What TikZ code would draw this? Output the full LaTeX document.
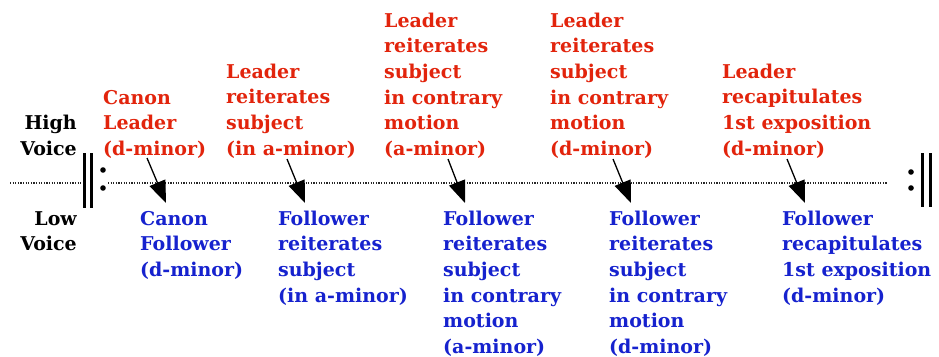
\documentclass[tikz,border=0pt]{standalone}
\usepackage{fontspec}
\setmainfont{DejaVu Serif}
\usetikzlibrary{arrows.meta}
\definecolor{leadred}{RGB}{226,36,12}
\definecolor{follblue}{RGB}{22,34,206}
\newcommand{\fs}{\rule{0pt}{16pt}}
\tikzset{
 lbl/.style={anchor=north west, inner sep=0pt, align=left, font=\fontsize{19}{25.6}\selectfont\bfseries},
 lead/.style={lbl, text=leadred},
 foll/.style={lbl, text=follblue},
 voice/.style={lbl, anchor=north east, align=right, text=black},
 cue/.style={-{Triangle[length=22pt,width=17pt]}, line width=1.3pt, black},
 staff/.style={dash pattern=on 1.1pt off 1.5pt, line width=1.2pt, black!85},
 barline/.style={line width=3pt, black},
}
\begin{document}
\begin{tikzpicture}[x=1pt,y=-1pt]
\fill[white] (0,0) rectangle (939,356);
\useasboundingbox (0,0) rectangle (939,356);
% staff line
\coordinate (s0) at (10,183);
\coordinate (s1) at (82,183);
\coordinate (s2) at (108,183);
\coordinate (s3) at (887,183);
\draw[staff] (s0) -- (s1);
\draw[staff] (s2) -- (s3);
% repeat signs
\draw[barline] (84.5,153) -- (84.5,208);
\draw[barline] (91.5,153) -- (91.5,208);
\fill (103,170) circle (2.8);
\fill (103,188) circle (2.8);
\fill (911,172) circle (2.8);
\fill (911,188) circle (2.8);
\draw[barline] (922,153) -- (922,207);
\draw[barline] (930,153) -- (930,207);
% voices
\node[voice] (hv) at (77,113.5) {\fs High\\Voice};
\node[voice] (lv) at (77,209) {\fs Low\\Voice};
% leader texts
\node[lead] (r1) at (103,88) {\fs Canon\\Leader\\(d-minor)};
\node[lead] (r2) at (226,62) {\fs Leader\\reiterates\\subject\\(in a-minor)};
\node[lead] (r3) at (384,11) {\fs Leader\\reiterates\\subject\\in contrary\\motion\\(a-minor)};
\node[lead] (r4) at (550,11) {\fs Leader\\reiterates\\subject\\in contrary\\motion\\(d-minor)};
\node[lead] (r5) at (722,62) {\fs Leader\\recapitulates\\1st exposition\\(d-minor)};
% follower texts
\node[foll] (b1) at (140,209) {\fs Canon\\Follower\\(d-minor)};
\node[foll] (b2) at (278,209) {\fs Follower\\reiterates\\subject\\(in a-minor)};
\node[foll] (b3) at (443,209) {\fs Follower\\reiterates\\subject\\in contrary\\motion\\(a-minor)};
\node[foll] (b4) at (609,209) {\fs Follower\\reiterates\\subject\\in contrary\\motion\\(d-minor)};
\node[foll] (b5) at (782,209) {\fs Follower\\recapitulates\\1st exposition\\(d-minor)};
% cue arrows
\coordinate (a1) at (147,158); \coordinate (e1) at (166,203);
\coordinate (a2) at (287,159); \coordinate (e2) at (305,203);
\coordinate (a3) at (448,159); \coordinate (e3) at (465,203);
\coordinate (a4) at (613,159); \coordinate (e4) at (631,203);
\coordinate (a5) at (787,159); \coordinate (e5) at (805,203);
\foreach \i in {1,...,5} \draw[cue] (a\i) -- (e\i);
\end{tikzpicture}
\end{document}
